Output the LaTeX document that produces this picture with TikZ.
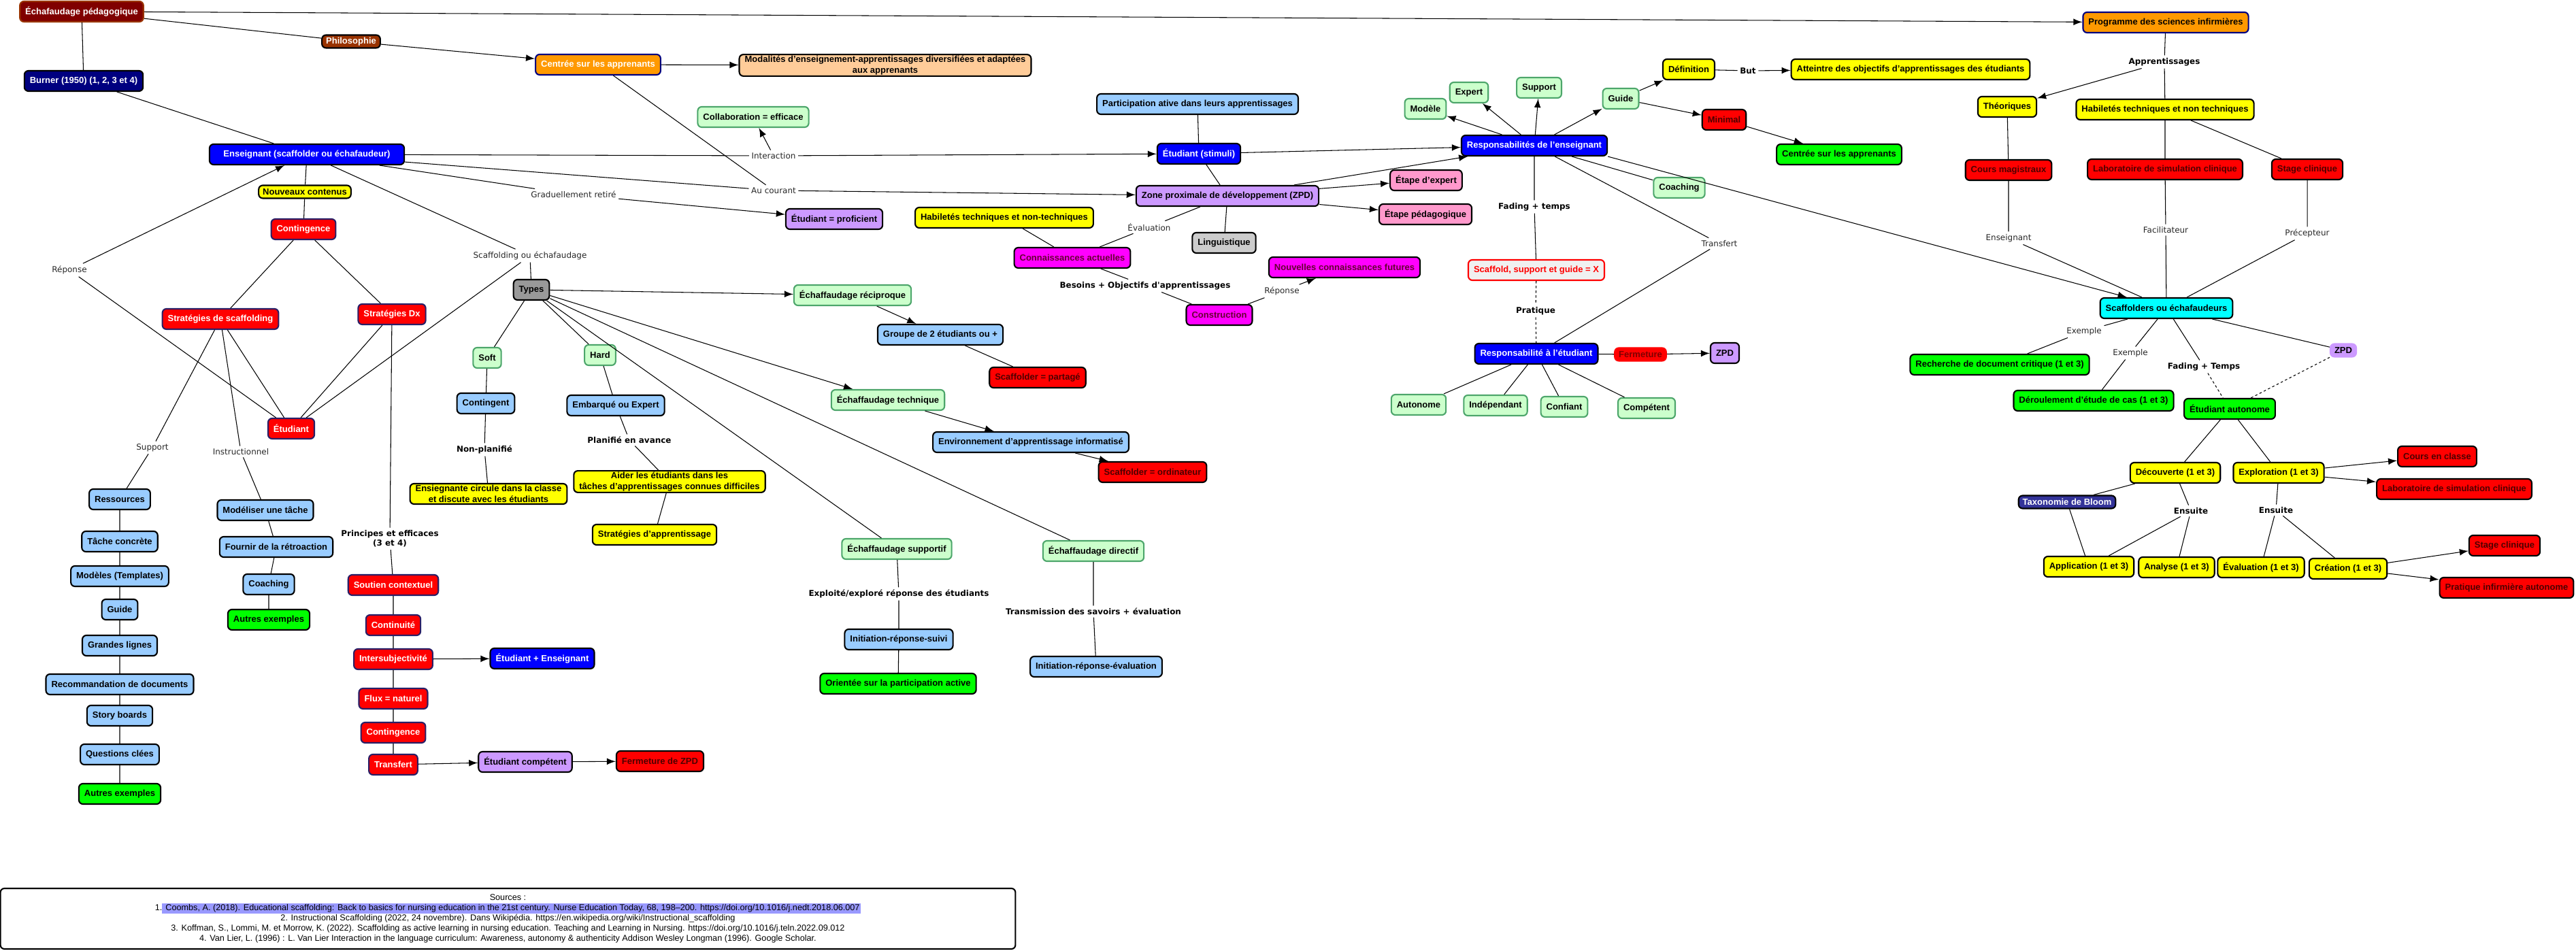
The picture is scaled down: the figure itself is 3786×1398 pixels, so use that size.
\documentclass[tikz,border=0pt]{standalone}
\usepackage{fontspec}
\setmainfont{Liberation Sans}
\newfontfamily\lblfamily{DejaVu Sans}
\usetikzlibrary{arrows, math}

\definecolor{cdarkred}{HTML}{800000}
\definecolor{cbrown}{HTML}{993300}
\definecolor{corange}{HTML}{FF9900}
\definecolor{cpeach}{HTML}{FFCC99}
\definecolor{cnavy}{HTML}{000080}
\definecolor{cblue}{HTML}{0000FF}
\definecolor{cyellow}{HTML}{FFFF00}
\definecolor{cred}{HTML}{FF0000}
\definecolor{credtxt}{HTML}{4D0000}
\definecolor{credborder}{HTML}{2A1F66}
\definecolor{cgray}{HTML}{999999}
\definecolor{clgray}{HTML}{CCCCCC}
\definecolor{clgreen}{HTML}{CCFFCC}
\definecolor{cgreenline}{HTML}{4DA66B}
\definecolor{clblue}{HTML}{99CCFF}
\definecolor{cgreen}{HTML}{00FF00}
\definecolor{cmagenta}{HTML}{FF00FF}
\definecolor{cmagtxt}{HTML}{660033}
\definecolor{cpurple}{HTML}{CC99FF}
\definecolor{cpink}{HTML}{FF99CC}
\definecolor{ccyan}{HTML}{00FFFF}
\definecolor{cslate}{HTML}{333399}
\definecolor{chl}{HTML}{9999FF}

\newcommand\boxtxt{\fontsize{3.7}{4.4}\selectfont\bfseries}
\newcommand\lbltxt{\lblfamily\fontsize{3.4}{4.1}\selectfont}
\newcommand\blbltxt{\lblfamily\fontsize{3.4}{4.1}\selectfont\bfseries}
\newcommand\srctxt{\fontsize{3.6}{4.27}\selectfont}
\setlength{\fboxsep}{0.4pt}

\tikzset{
    box/.style={draw=black, line width=0.6pt, rounded corners=0.06cm, minimum height=0.3cm, inner xsep=0.08cm, inner ysep=0.02cm, align=center, font=\boxtxt},
    box-small/.style={box, minimum height=0.19cm, inner ysep=0.01cm, inner xsep=0.06cm},
    b-darkred/.style={box, fill=cdarkred, draw=cbrown, text=white},
    b-orange/.style={box, fill=corange, draw=cnavy},
    b-peach/.style={box, fill=cpeach},
    b-navy/.style={box, fill=cnavy, text=white},
    b-blue/.style={box, fill=cblue, text=white},
    b-yellow/.style={box, fill=cyellow},
    b-red/.style={box, fill=cred, draw=credborder, text=white},
    b-reddk/.style={box, fill=cred, text=credtxt},
    b-gray/.style={box, fill=cgray},
    b-lgray/.style={box, fill=clgray},
    b-lgreen/.style={box, fill=clgreen, draw=cgreenline},
    b-lblue/.style={box, fill=clblue},
    b-green/.style={box, fill=cgreen},
    b-magenta/.style={box, fill=cmagenta, text=cmagtxt},
    b-purple/.style={box, fill=cpurple},
    b-pink/.style={box, fill=cpink},
    b-cyan/.style={box, fill=ccyan},
    lbl/.style={font=\lbltxt, text=black!85, inner sep=0.03cm},
    blbl/.style={font=\blbltxt, inner sep=0.03cm, align=center},
    link/.style={line width=0.3pt},
    arr/.style={link, -latex},
    dash-link/.style={link, dash pattern=on 1pt off 1pt}
}

\begin{document}
\begin{tikzpicture}[x=0.01cm, y=-0.01cm]
    \tikzmath{\xSup = 176; \xIns = 395; \xDx = 578;}
    \useasboundingbox (0,0) rectangle (3786,1398);

    \node[b-darkred](ech-ped) at (120,17) {Échafaudage pédagogique};
    \node[b-darkred, box-small, fill=cbrown](philo) at (516,61) {Philosophie};
    \node[b-orange, text=white](centre-app) at (879,95) {Centrée sur les apprenants};
    \node[b-peach](modal) at (1301,96) {Modalités d'enseignement-apprentissages diversifiées et adaptées\\aux apprenants};
    \node[b-navy](burner) at (123,119) {Burner (1950) (1, 2, 3 et 4)};
    \node[b-blue, minimum width=2.86cm](ens) at (451,227) {Enseignant (scaffolder ou échafaudeur)};
    \node[b-yellow, box-small](nouv-cont) at (448,282) {Nouveaux contenus};
    \node[b-red](cont-a) at (446,337) {Contingence};
    \node[b-red](strat-scaf) at (324,469) {Stratégies de scaffolding};
    \node[b-red](strat-dx) at (576,462) {Stratégies Dx};
    \node[b-red](etud) at (428,630) {Étudiant};

    \node[b-lblue](ress) at (\xSup,734) {Ressources};
    \node[b-lblue](tache) at (\xSup,796) {Tâche concrète};
    \node[b-lblue](modeles) at (\xSup,847) {Modèles (Templates)};
    \node[b-lblue](guide-a) at (\xSup,896) {Guide};
    \node[b-lblue](grandes) at (\xSup,949) {Grandes lignes};
    \node[b-lblue](recom) at (\xSup,1006) {Recommandation de documents};
    \node[b-lblue](story) at (\xSup,1052) {Story boards};
    \node[b-lblue](quest) at (\xSup,1109) {Questions clées};
    \node[b-green](autres-a) at (\xSup,1167) {Autres exemples};

    \node[b-lblue](modeliser) at (390,750) {Modéliser une tâche};
    \node[b-lblue](fournir) at (406,804) {Fournir de la rétroaction};
    \node[b-lblue](coach-a) at (\xIns,859) {Coaching};
    \node[b-green](autres-b) at (\xIns,911) {Autres exemples};

    \node[b-red](soutien) at (\xDx,860) {Soutien contextuel};
    \node[b-red](continu) at (\xDx,919) {Continuité};
    \node[b-red](intersub) at (\xDx,969) {Intersubjectivité};
    \node[b-red](flux) at (\xDx,1027) {Flux = naturel};
    \node[b-red](cont-b) at (\xDx,1077) {Contingence};
    \node[b-red](transf) at (\xDx,1124) {Transfert};
    \node[b-blue](etud-ens) at (797,968) {Étudiant + Enseignant};
    \node[b-purple](etud-comp) at (772,1120) {Étudiant compétent};
    \node[b-reddk](ferm-zpd) at (970,1119) {Fermeture de ZPD};

    \node[b-gray](types) at (781,426) {Types};
    \node[b-lgreen](soft) at (716,526) {Soft};
    \node[b-lgreen](hard) at (882,522) {Hard};
    \node[b-lblue](contgt) at (714,593) {Contingent};
    \node[b-lblue](embarq) at (905,596) {Embarqué ou Expert};
    \node[b-yellow](ensgte) at (718,726) {Ensiegnante circule dans la classe\\et discute avec les étudiants};
    \node[b-yellow](aider) at (984,708) {Aider les étudiants dans les\\tâches d'apprentissages connues difficiles};
    \node[b-yellow](strat-app) at (962,786) {Stratégies d'apprentissage};

    \node[b-lgreen](collab) at (1107,172) {Collaboration = efficace};
    \node[b-purple](etud-prof) at (1226,322) {Étudiant = proficient};
    \node[b-lgreen](ech-recip) at (1253,434) {Échaffaudage réciproque};
    \node[b-lblue](groupe) at (1382,492) {Groupe de 2 étudiants ou +};
    \node[b-reddk](scaf-part) at (1525,555) {Scaffolder = partagé};
    \node[b-lgreen](ech-tech) at (1305,588) {Échaffaudage technique};
    \node[b-lblue](env-info) at (1515,650) {Environnement d'apprentissage informatisé};
    \node[b-reddk](scaf-ordi) at (1694,694) {Scaffolder = ordinateur};
    \node[b-lgreen](ech-supp) at (1318,807) {Échaffaudage supportif};
    \node[b-lgreen](ech-dir) at (1607,810) {Échaffaudage directif};
    \node[b-lblue](irs) at (1321,940) {Initiation-réponse-suivi};
    \node[b-green](orient) at (1320,1005) {Orientée sur la participation active};
    \node[b-lblue](ire) at (1611,980) {Initiation-réponse-évaluation};

    \node[b-lblue](particip) at (1760,153) {Participation ative dans leurs apprentissages};
    \node[b-blue](etud-stim) at (1762,226) {Étudiant (stimuli)};
    \node[b-purple](zpd) at (1804,288) {Zone proximale de développement (ZPD)};
    \node[b-yellow](hab-tech) at (1476,320) {Habiletés techniques et non-techniques};
    \node[b-lgray](linguist) at (1799,357) {Linguistique};
    \node[b-magenta](conn-act) at (1576,379) {Connaissances actuelles};
    \node[b-magenta](constr) at (1792,463) {Construction};
    \node[b-magenta](nouv-conn) at (1976,393) {Nouvelles connaissances futures};

    \node[b-blue](resp-ens) at (2255,214) {Responsabilités de l'enseignant};
    \node[b-lgreen](modele) at (2095,160) {Modèle};
    \node[b-lgreen](expert) at (2159,136) {Expert};
    \node[b-lgreen](support) at (2262,129) {Support};
    \node[b-lgreen](guide-b) at (2382,145) {Guide};
    \node[b-yellow](defin) at (2482,102) {Définition};
    \node[b-yellow](atteinte) at (2808,102) {Atteintre des objectifs d'apprentissages des étudiants};
    \node[b-reddk](minimal) at (2534,176) {Minimal};
    \node[b-green](centre-app-b) at (2703,227) {Centrée sur les apprenants};
    \node[b-pink](etape-exp) at (2096,265) {Étape d'expert};
    \node[b-pink](etape-ped) at (2095,315) {Étape pédagogique};
    \node[b-lgreen](coach-b) at (2468,276) {Coaching};
    \node[box, fill=black!6, draw=cred, text=cred](scaf-x) at (2258,397) {Scaffold, support et guide = X};
    \node[b-blue](resp-etu) at (2258,520) {Responsabilité à l'étudiant};
    \node[b-reddk, box-small, draw=cred, text=cdarkred](ferm) at (2411,521) {Fermeture};
    \node[b-purple](zpd-b) at (2535,519) {ZPD};
    \node[b-lgreen](autonome) at (2085,595) {Autonome};
    \node[b-lgreen](indep) at (2198,596) {Indépendant};
    \node[b-lgreen](confiant) at (2299,598) {Confiant};
    \node[b-lgreen](compet) at (2420,600) {Compétent};

    \node[b-orange](programme) at (3183,33) {Programme des sciences infirmières};
    \node[b-yellow](theor) at (2950,157) {Théoriques};
    \node[b-yellow](hab-b) at (3182,161) {Habiletés techniques et non techniques};
    \node[b-reddk](cours-mag) at (2952,250) {Cours magistraux};
    \node[b-reddk](labo-a) at (3182,249) {Laboratoire de simulation clinique};
    \node[b-reddk](stage-a) at (3391,249) {Stage clinique};
    \node[b-cyan](scaffolders) at (3184,453) {Scaffolders ou échafaudeurs};
    \node[b-purple, box-small, draw=cpurple](zpd-c) at (3444,515) {ZPD};
    \node[b-green](recherche) at (2939,536) {Recherche de document critique (1 et 3)};
    \node[b-green](deroul) at (3077,589) {Déroulement d'étude de cas (1 et 3)};
    \node[b-green](etud-auto) at (3277,601) {Étudiant autonome};
    \node[b-reddk](cours-cl) at (3582,671) {Cours en classe};
    \node[b-yellow](decouv) at (3197,695) {Découverte (1 et 3)};
    \node[b-yellow](explor) at (3349,695) {Exploration (1 et 3)};
    \node[b-reddk](labo-b) at (3607,719) {Laboratoire de simulation clinique};
    \node[b-navy, box-small, fill=cslate](taxo) at (3038,738) {Taxonomie de Bloom};
    \node[b-reddk](stage-b) at (3681,802) {Stage clinique};
    \node[b-yellow](applic) at (3070,833) {Application (1 et 3)};
    \node[b-yellow](analyse) at (3199,834) {Analyse (1 et 3)};
    \node[b-yellow](evalu) at (3323,834) {Évaluation (1 et 3)};
    \node[b-yellow](creation) at (3451,836) {Création (1 et 3)};
    \node[b-reddk](pratique-inf) at (3684,864) {Pratique infirmière autonome};

    \node[lbl](l-reponse-a) at (102,397) {Réponse};
    \node[lbl](l-grad) at (843,286) {Graduellement retiré};
    \node[lbl](l-scaf) at (779,376) {Scaffolding ou échafaudage};
    \node[lbl](l-support) at (224,658) {Support};
    \node[lbl](l-instr) at (354,664) {Instructionnel};
    \node[blbl](l-nonplan) at (712,661) {Non-planifié};
    \node[blbl](l-planif) at (925,647) {Planifié en avance};
    \node[blbl](l-princ) at (573,792) {Principes et efficaces\\(3 et 4)};
    \node[lbl](l-inter) at (1137,229) {Interaction};
    \node[lbl](l-cour) at (1137,280) {Au courant};
    \node[lbl](l-eval) at (1689,334) {Évaluation};
    \node[blbl](l-besoins) at (1683,420) {Besoins + Objectifs d'apprentissages};
    \node[lbl](l-reponse-b) at (1884,428) {Réponse};
    \node[blbl](l-exploite) at (1321,873) {Exploité/exploré réponse des étudiants};
    \node[blbl](l-transm) at (1607,899) {Transmission des savoirs + évaluation};
    \node[blbl](l-but) at (2569,104) {But};
    \node[blbl](l-fading-a) at (2255,304) {Fading + temps};
    \node[lbl](l-transf) at (2527,358) {Transfert};
    \node[blbl](l-pratique) at (2257,457) {Pratique};
    \node[blbl](l-apprent) at (3181,91) {Apprentissages};
    \node[lbl](l-ens) at (2952,350) {Enseignant};
    \node[lbl](l-facil) at (3183,338) {Facilitateur};
    \node[lbl](l-precep) at (3391,343) {Précepteur};
    \node[lbl](l-ex-a) at (3063,487) {Exemple};
    \node[lbl](l-ex-b) at (3131,519) {Exemple};
    \node[blbl](l-fading-b) at (3239,539) {Fading + Temps};
    \node[blbl](l-ensuite-a) at (3220,751) {Ensuite};
    \node[blbl](l-ensuite-b) at (3345,750) {Ensuite};

    \node[draw, line width=0.6pt, rounded corners=0.06cm, minimum width=14.91cm, minimum height=0.89cm, inner sep=0pt, align=center, font=\srctxt](sources) at (746.5,1350.5) {Sources :\\ 1.\colorbox{chl}{\ Coombs, A. (2018). Educational scaffolding: Back to basics for nursing education in the 21st century. Nurse Education Today, 68, 198–200. https://doi.org/10.1016/j.nedt.2018.06.007}\\ 2. Instructional Scaffolding (2022, 24 novembre). Dans Wikipédia. https://en.wikipedia.org/wiki/Instructional\_scaffolding\\ 3. Koffman, S., Lommi, M. et Morrow, K. (2022). Scaffolding as active learning in nursing education. Teaching and Learning in Nursing. https://doi.org/10.1016/j.teln.2022.09.012\\ 4. Van Lier, L. (1996) : L. Van Lier Interaction in the language curriculum: Awareness, autonomy \& authenticity Addison Wesley Longman (1996). Google Scholar.};

    \draw[arr] (ech-ped) -- (programme);
    \draw[link] (ech-ped) -- (philo);
    \draw[arr] (philo) -- (centre-app);
    \draw[arr] (centre-app) -- (modal);
    \draw[link] (ech-ped) -- (burner);
    \draw[link] (burner) -- (ens);
    \draw[link] (ens) -- (l-inter);
    \draw[arr] (l-inter) -- (etud-stim);
    \draw[arr] (l-inter) -- (collab);
    \draw[link] (ens) -- (l-cour);
    \draw[link] (centre-app) -- (l-cour);
    \draw[arr] (l-cour) -- (zpd);
    \draw[link] (ens) -- (l-grad);
    \draw[arr] (l-grad) -- (etud-prof);
    \draw[link] (ens) -- (nouv-cont) -- (cont-a);
    \draw[link] (cont-a) -- (strat-scaf) -- (etud);
    \draw[link] (cont-a) -- (strat-dx) -- (etud);
    \draw[link] (etud) -- (l-reponse-a);
    \draw[arr] (l-reponse-a) -- (ens);
    \draw[link] (ens) -- (l-scaf) -- (types);
    \draw[link] (l-scaf) -- (etud);

    \draw[link] (strat-scaf) -- (l-support) -- (ress) -- (tache) -- (modeles) -- (guide-a) -- (grandes) -- (recom) -- (story) -- (quest) -- (autres-a);
    \draw[link] (strat-scaf) -- (l-instr) -- (modeliser) -- (fournir) -- (coach-a) -- (autres-b);
    \draw[link] (strat-dx) -- (l-princ) -- (soutien) -- (continu) -- (intersub) -- (flux) -- (cont-b) -- (transf);
    \draw[arr] (intersub) -- (etud-ens);
    \draw[arr] (transf) -- (etud-comp);
    \draw[arr] (etud-comp) -- (ferm-zpd);

    \draw[link] (types) -- (soft) -- (contgt) -- (l-nonplan) -- (ensgte);
    \draw[link] (types) -- (hard) -- (embarq) -- (l-planif) -- (aider) -- (strat-app);
    \draw[arr] (types) -- (ech-recip);
    \draw[arr] (ech-recip) -- (groupe);
    \draw[link] (groupe) -- (scaf-part);
    \draw[arr] (types) -- (ech-tech);
    \draw[arr] (ech-tech) -- (env-info);
    \draw[arr] (env-info) -- (scaf-ordi);
    \draw[link] (types) -- (ech-supp) -- (l-exploite) -- (irs) -- (orient);
    \draw[link] (types) -- (ech-dir) -- (l-transm) -- (ire);

    \draw[link] (particip) -- (etud-stim) -- (zpd);
    \draw[arr] (etud-stim) -- (resp-ens);
    \draw[arr] (zpd) -- (resp-ens);
    \draw[arr] (zpd) -- (etape-exp);
    \draw[arr] (zpd) -- (etape-ped);
    \draw[link] (zpd) -- (linguist);
    \draw[link] (zpd) -- (l-eval) -- (conn-act);
    \draw[link] (hab-tech) -- (conn-act);
    \draw[link] (conn-act) -- (l-besoins) -- (constr) -- (l-reponse-b);
    \draw[arr] (l-reponse-b) -- (nouv-conn);

    \draw[arr] (resp-ens) -- (modele);
    \draw[arr] (resp-ens) -- (expert);
    \draw[arr] (resp-ens) -- (support);
    \draw[arr] (resp-ens) -- (guide-b);
    \draw[arr] (guide-b) -- (defin);
    \draw[arr] (guide-b) -- (minimal);
    \draw[arr] (minimal) -- (centre-app-b);
    \draw[link] (defin) -- (l-but);
    \draw[arr] (l-but) -- (atteinte);
    \draw[link] (resp-ens) -- (coach-b);
    \draw[arr] (resp-ens.south east) -- ([xshift=0.4cm]scaffolders.north west);
    \draw[link] (resp-ens) -- (l-fading-a) -- (scaf-x);
    \draw[dash-link] (scaf-x) -- (l-pratique) -- (resp-etu);
    \draw[link] (resp-ens) -- (l-transf) -- (resp-etu);
    \draw[link] (resp-etu) -- (ferm);
    \draw[arr] (ferm) -- (zpd-b);
    \draw[link] (resp-etu) -- (autonome);
    \draw[link] (resp-etu) -- (indep);
    \draw[link] (resp-etu) -- (confiant);
    \draw[link] (resp-etu) -- (compet);

    \draw[link] (programme) -- (l-apprent) -- (hab-b);
    \draw[arr] (l-apprent) -- (theor);
    \draw[link] (theor) -- (cours-mag) -- (l-ens) -- (scaffolders);
    \draw[link] (hab-b) -- (labo-a) -- (l-facil) -- (scaffolders);
    \draw[link] (hab-b) -- (stage-a) -- (l-precep) -- (scaffolders);
    \draw[link] (scaffolders) -- (l-ex-a) -- (recherche);
    \draw[link] (scaffolders) -- (l-ex-b) -- (deroul);
    \draw[link] (scaffolders) -- (l-fading-b);
    \draw[dash-link] (l-fading-b) -- (etud-auto);
    \draw[link] (scaffolders) -- (zpd-c);
    \draw[dash-link] (zpd-c) -- (etud-auto);
    \draw[link] (etud-auto) -- (decouv);
    \draw[link] (etud-auto) -- (explor);
    \draw[link] (decouv) -- (taxo) -- (applic);
    \draw[link] (decouv) -- (l-ensuite-a) -- (applic);
    \draw[link] (l-ensuite-a) -- (analyse);
    \draw[link] (explor) -- (l-ensuite-b) -- (evalu);
    \draw[link] (l-ensuite-b) -- (creation);
    \draw[arr] (explor) -- (cours-cl);
    \draw[arr] (explor) -- (labo-b);
    \draw[arr] (creation) -- (stage-b);
    \draw[arr] (creation) -- (pratique-inf);
\end{tikzpicture}
\end{document}
